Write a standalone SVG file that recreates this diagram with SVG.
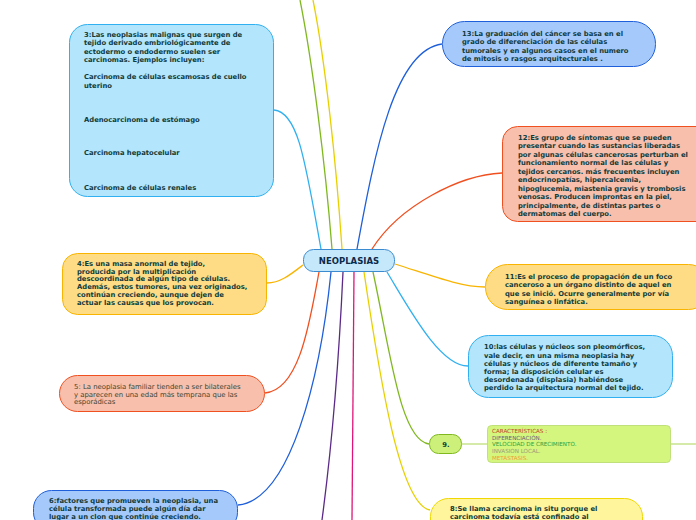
<svg xmlns="http://www.w3.org/2000/svg" width="696" height="520" viewBox="0 0 696 520">
<style>
.t{font-family:"DejaVu Sans","Verdana",sans-serif;font-size:6.8px;font-weight:bold;fill:#123b3a}
.r{font-family:"DejaVu Sans","Verdana",sans-serif;font-size:6.9px;fill:#3b4630}
.c{font-family:"DejaVu Sans","Verdana",sans-serif;font-size:5.6px}
.ln{fill:none;stroke-width:1.3}
.cy{fill:#b3e5fc;stroke:#30b0f0;stroke-width:1}
.yo{fill:#fddc85;stroke:#f8b400;stroke-width:1}
.sa{fill:#f8bfad;stroke:#f05020;stroke-width:1}
.bl{fill:#a6c9fc;stroke:#1f5fd9;stroke-width:1}
</style>
<rect width="696" height="520" fill="#ffffff"/>
<g id="connectors">
<path class="ln" stroke="#30b0f0" d="M321,249 C305,160 298,112 274,110"/>
<path class="ln" stroke="#80b820" d="M332,249 C325,160 312,60 300,0"/>
<path class="ln" stroke="#e8d000" d="M342,249 C336,160 325,60 313,0"/>
<path class="ln" stroke="#1f5fd9" d="M357,249 C375,150 395,50 442,44"/>
<path class="ln" stroke="#f05020" d="M372,249 C400,205 460,175 502,173"/>
<path class="ln" stroke="#f8b400" d="M395,264 C430,275 460,287 485,287"/>
<path class="ln" stroke="#f8b400" d="M303,265 C290,275 280,283 267,283"/>
<path class="ln" stroke="#f05020" d="M319,272 C310,320 300,390 265,393"/>
<path class="ln" stroke="#1f5fd9" d="M331,272 C320,380 290,500 238,505"/>
<path class="ln" stroke="#5b2a86" d="M343,272 C338,380 330,460 322,520"/>
<path class="ln" stroke="#e0157a" d="M354,272 C353,380 352,460 352,520"/>
<path class="ln" stroke="#e8d000" d="M364,272 C380,380 400,505 430,510"/>
<path class="ln" stroke="#80b820" d="M373,272 C390,350 400,440 429,444"/>
<path class="ln" stroke="#30b0f0" d="M387,272 C410,310 440,366 468,366"/>
<path class="ln" stroke="#c8e48c" stroke-width="1.5" d="M462,444 H488 M670,444 H696"/>
</g>
<g id="center">
<rect x="303.5" y="249.5" width="91" height="22" rx="10" fill="#c5e9fb" stroke="#3b8bd0"/>
<text x="349" y="264" text-anchor="middle" style="font-family:'DejaVu Sans',sans-serif;font-size:8.5px;font-weight:bold;fill:#0d2a4a">NEOPLASIAS</text>
</g>
<g id="node3">
<rect class="cy" x="69.5" y="24.5" width="204" height="172" rx="18"/>
<text class="t"><tspan x="84" y="36.5">3:Las neoplasias malignas que surgen de</tspan><tspan x="84" y="45">tejido derivado embriológicamente de</tspan><tspan x="84" y="53.5">ectodermo o endodermo suelen ser</tspan><tspan x="84" y="62">carcinomas. Ejemplos incluyen:</tspan><tspan x="84" y="79">Carcinoma de células escamosas de cuello</tspan><tspan x="84" y="87.5">uterino</tspan><tspan x="84" y="121.5">Adenocarcinoma de estómago</tspan><tspan x="84" y="155">Carcinoma hepatocelular</tspan><tspan x="84" y="189.5">Carcinoma de células renales</tspan></text>
</g>
<g id="node4">
<rect class="yo" x="62.5" y="253.5" width="204" height="61" rx="15"/>
<text class="t"><tspan x="77" y="266">4:Es una  masa anormal de tejido,</tspan><tspan x="77" y="273.5">producida por la multiplicación</tspan><tspan x="77" y="281">descoordinada de algún tipo de células.</tspan><tspan x="77" y="289">Además, estos tumores, una vez originados,</tspan><tspan x="77" y="297">continúan creciendo, aunque dejen de</tspan><tspan x="77" y="304.5">actuar las causas que los provocan.</tspan></text>
</g>
<g id="node5">
<rect class="sa" x="59.5" y="375.5" width="205" height="36" rx="18"/>
<text class="r"><tspan x="74" y="388.5">5: La neoplasia familiar tienden a ser bilaterales</tspan><tspan x="74" y="396.5">y aparecen en una edad más temprana que las</tspan><tspan x="74" y="404">esporádicas</tspan></text>
</g>
<g id="node6">
<rect class="bl" x="33.5" y="490.5" width="204" height="40" rx="18"/>
<text class="t"><tspan x="49" y="502.5">6:factores que promueven la neoplasia, una</tspan><tspan x="49" y="511">célula transformada puede algún día dar</tspan><tspan x="49" y="518.5">lugar a un clon que continúe creciendo.</tspan></text>
</g>
<g id="node13">
<rect class="bl" x="442.5" y="21.5" width="213" height="45" rx="22"/>
<text class="t"><tspan x="462" y="35.5">13:La graduación del cáncer se basa en el</tspan><tspan x="462" y="44">grado de diferenciación de las células</tspan><tspan x="462" y="52.5">tumorales y en algunos casos en el numero</tspan><tspan x="462" y="60.5">de mitosis o rasgos arquitecturales .</tspan></text>
</g>
<g id="node12">
<rect class="sa" x="502.5" y="126.5" width="210" height="95" rx="15"/>
<text class="t"><tspan x="518" y="139.5">12:Es grupo de síntomas que se pueden</tspan><tspan x="518" y="148">presentar cuando las sustancias liberadas</tspan><tspan x="518" y="156.5">por algunas células cancerosas perturban el</tspan><tspan x="518" y="165">funcionamiento normal de las células y</tspan><tspan x="518" y="173.5">tejidos cercanos. más frecuentes incluyen</tspan><tspan x="518" y="182">endocrinopatías, hipercalcemia,</tspan><tspan x="518" y="190.5">hipoglucemia, miastenia gravis y trombosis</tspan><tspan x="518" y="199">venosas. Producen improntas en la piel,</tspan><tspan x="518" y="207.5">principalmente, de distintas partes o</tspan><tspan x="518" y="216">dermatomas del cuerpo.</tspan></text>
</g>
<g id="node11">
<rect class="yo" x="485.5" y="264.5" width="225" height="45" rx="22"/>
<text class="t"><tspan x="505" y="278.5">11:Es el proceso de propagación de un foco</tspan><tspan x="505" y="287">canceroso a un órgano distinto de aquel en</tspan><tspan x="505" y="295.5">que se inició. Ocurre generalmente por vía</tspan><tspan x="505" y="303.5">sanguínea o linfática.</tspan></text>
</g>
<g id="node10">
<rect class="cy" x="468.5" y="335.5" width="204" height="62" rx="20"/>
<text class="t"><tspan x="484" y="349">10:las células y núcleos son pleomórficos,</tspan><tspan x="484" y="357.5">vale decir, en una misma neoplasia hay</tspan><tspan x="484" y="365.5">células y núcleos de diferente tamaño y</tspan><tspan x="484" y="374">forma; la disposición celular es</tspan><tspan x="484" y="382">desordenada (displasia) habiéndose</tspan><tspan x="484" y="390">perdido la arquitectura normal del tejido.</tspan></text>
</g>
<g id="node9">
<rect x="429.5" y="434.5" width="32" height="19" rx="9" fill="#ccf07a" stroke="#80b820"/>
<text class="t" x="446" y="447" text-anchor="middle">9.</text>
</g>
<g id="characteristics">
<rect x="487.5" y="425.5" width="183" height="37" rx="4" fill="#d4f57e" stroke="#bfe07a"/>
<text class="c"><tspan x="492" y="432.5" fill="#c0452b">CARACTERÍSTICAS :</tspan><tspan x="492" y="439.5" fill="#6b5b7b">DIFERENCIACIÓN.</tspan><tspan x="492" y="446" fill="#2ea040">VELOCIDAD DE CRECIMIENTO.</tspan><tspan x="492" y="453" fill="#9a9a7a">INVASION LOCAL.</tspan><tspan x="492" y="459.5" fill="#f0a030">METÁSTASIS.</tspan></text>
</g>
<g id="node8">
<rect x="430.5" y="498.5" width="212" height="40" rx="18" fill="#fff59d" stroke="#f0d800"/>
<text class="t"><tspan x="450" y="511">8:Se llama carcinoma in situ porque el</tspan><tspan x="450" y="518.5">carcinoma todavía está confinado al</tspan></text>
</g>
</svg>
